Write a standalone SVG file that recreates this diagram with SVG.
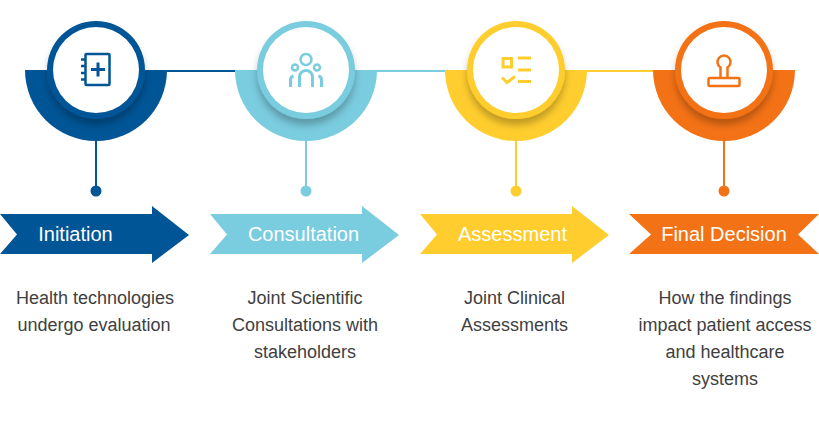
<svg xmlns="http://www.w3.org/2000/svg" width="819" height="428" viewBox="0 0 819 428">
<style>
text{font-family:"Liberation Sans",Arial,sans-serif}
.t{font-size:20px;fill:#fff;text-anchor:middle}
.b{font-size:18px;fill:#404040;text-anchor:middle}
.ic{fill:none;stroke-width:2.500}
.ln{fill:none;stroke-width:2}
.navy{fill:#005596}.sky{fill:#7accdf}.yel{fill:#ffcd2e}.org{fill:#f47216}
.snavy{stroke:#005596}.ssky{stroke:#7accdf}.syel{stroke:#ffcd2e}.sorg{stroke:#f47216}
</style>
<defs>
<filter id="sh" x="-30%" y="-30%" width="160%" height="170%"><feDropShadow dx="0" dy="6" stdDeviation="3.500" flood-color="#000" flood-opacity="0.25"/></filter>
<path id="half" d="M-71 0H71A71 71 0 0 1-71 0Z"/>
<path id="arrow" d="M0 214H152V206L189 235L152 263V254H0L17 234.500Z"/>
</defs>
<rect width="819" height="428" fill="#fff"/>
<g id="connectors">
<path class="ln snavy" d="M167 71H235M96 141V187"/>
<path class="ln ssky" d="M377 71H445M306 141V187"/>
<path class="ln syel" d="M587 71H653M516 141V187"/>
<path class="ln sorg" d="M724 141V187"/>
</g>
<g id="node-initiation">
<use href="#half" x="96" y="70" class="navy"/>
<circle cx="96" cy="70" r="49" class="navy" filter="url(#sh)"/>
<circle cx="96" cy="70" r="43" fill="#fff"/>
<g class="ic snavy">
<rect x="85.500" y="54" width="24" height="31" rx="1"/>
<path d="M81 59.500h4.500M81 66h4.500M81 73h4.500M81 79.500h4.500"/>
<path d="M98 62.500v14M91 69.500h14" stroke-width="3"/>
</g>
<circle cx="96" cy="191" r="5.500" class="navy"/>
<use href="#arrow" class="navy"/>
<text x="75.500" y="241" class="t">Initiation</text>
<text x="95" y="304" class="b">Health technologies</text>
<text x="94" y="331" class="b">undergo evaluation</text>
</g>
<g id="node-consultation">
<use href="#half" x="306" y="70" class="sky"/>
<circle cx="306" cy="70" r="49" class="sky" filter="url(#sh)"/>
<circle cx="306" cy="70" r="43" fill="#fff"/>
<g class="ic ssky">
<circle cx="306" cy="59.500" r="5.500" stroke-width="2.500"/>
<circle cx="295" cy="67.500" r="3"/>
<circle cx="317" cy="67.500" r="3"/>
<path d="M299.500 87V77a6.500 6.500 0 0 1 13 0V87" stroke-width="3"/>
<path d="M290.500 87V80a4 4 0 0 1 3-4M321.500 87V80a4 4 0 0 0-3-4" stroke-width="3"/>
</g>
<circle cx="306" cy="191" r="5.500" class="sky"/>
<use href="#arrow" x="210" class="sky"/>
<text x="303.500" y="241" class="t">Consultation</text>
<text x="305" y="304" class="b">Joint Scientific</text>
<text x="305" y="331" class="b">Consultations with</text>
<text x="305" y="358" class="b">stakeholders</text>
</g>
<g id="node-assessment">
<use href="#half" x="516" y="70" class="yel"/>
<circle cx="516" cy="70" r="49" class="yel" filter="url(#sh)"/>
<circle cx="516" cy="70" r="43" fill="#fff"/>
<g class="ic syel">
<rect x="503" y="58.500" width="8.500" height="8.500" stroke-width="3"/>
<path d="M518 58h13M518 70h13M518 81.500h13" stroke-width="3"/>
<path d="M502 77.500l5 5 8-6" stroke-width="3"/>
</g>
<circle cx="516" cy="191" r="5.500" class="yel"/>
<use href="#arrow" x="420" class="yel"/>
<text x="512.500" y="241" class="t">Assessment</text>
<text x="514.500" y="304" class="b">Joint Clinical</text>
<text x="514.500" y="331" class="b">Assessments</text>
</g>
<g id="node-final-decision">
<use href="#half" x="724" y="70" class="org"/>
<circle cx="724" cy="70" r="49" class="org" filter="url(#sh)"/>
<circle cx="724" cy="70" r="43" fill="#fff"/>
<g class="ic sorg">
<path d="M720.500 77.500V67.500A6.500 6.500 0 1 1 727.500 67.500V77.500"/>
<rect x="708.500" y="78" width="31" height="8" rx="1"/>
</g>
<circle cx="724" cy="191" r="5.500" class="org"/>
<path d="M629 214H819L798 234.500L819 254H629L651 234.500Z" class="org"/>
<text x="724" y="241" class="t">Final Decision</text>
<text x="725" y="304" class="b">How the findings</text>
<text x="725" y="331" class="b">impact patient access</text>
<text x="725" y="358" class="b">and healthcare</text>
<text x="725" y="385" class="b">systems</text>
</g>
</svg>
